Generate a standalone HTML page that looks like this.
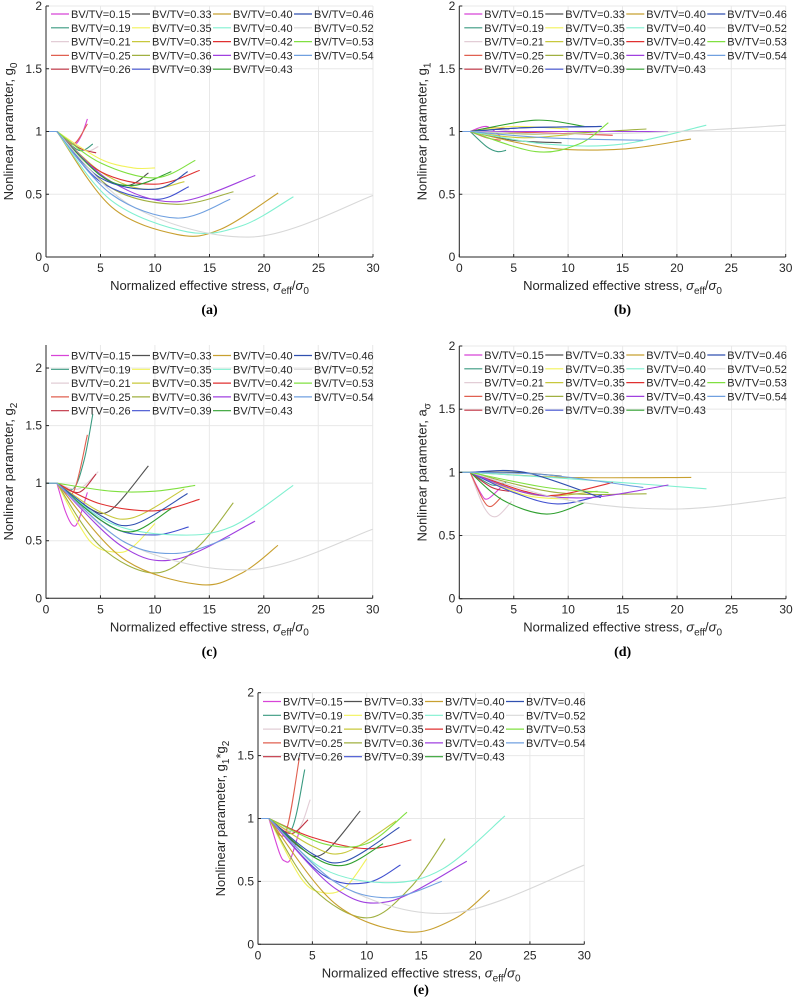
<!DOCTYPE html>
<html><head><meta charset="utf-8">
<style>
html,body{margin:0;padding:0;background:#fff;}
svg{display:block;font-family:"Liberation Sans",sans-serif;}
.tick{font-size:12px;fill:#262626;}
.leg{font-size:11px;fill:#262626;}
.axl{font-size:13px;fill:#262626;}
.pl{font-family:"Liberation Serif",serif;font-weight:bold;font-size:14px;fill:#000;}
</style></head>
<body>
<svg id="fig" width="793" height="1006" viewBox="0 0 793 1006" xmlns="http://www.w3.org/2000/svg"></svg>
<script>
const seriesLabels = ["BV/TV=0.15","BV/TV=0.19","BV/TV=0.21","BV/TV=0.25","BV/TV=0.26","BV/TV=0.33","BV/TV=0.35","BV/TV=0.35","BV/TV=0.36","BV/TV=0.39","BV/TV=0.40","BV/TV=0.40","BV/TV=0.42","BV/TV=0.43","BV/TV=0.43","BV/TV=0.46","BV/TV=0.52","BV/TV=0.53","BV/TV=0.54"];
const seriesColors = ["#d844d8","#3a9a80","#e2cdd6","#e06050","#c03040","#505050","#f2f25a","#c8c83c","#a0b040","#4050d0","#c8a030","#80f0d0","#e03030","#a040e0","#30a030","#3050b0","#d8d8d8","#80e040","#70a0e0"];
const xTicks = [0,5,10,15,20,25,30];
const yTicks = [0,0.5,1,1.5,2];
const yTickLabels = ["0","0.5","1","1.5","2"];

const g0Data = [
 [[0,1],[1,1],[2.5,0.9],[3.2,0.96],[3.8,1.1]],
 [[0,1],[1,1],[3,0.85],[4.3,0.9]],
 [[0,1],[1,1],[3.5,0.85],[4.8,0.88]],
 [[0,1],[1,1],[2.5,0.9],[3.8,1.06]],
 [[0,1],[1,1],[3,0.87],[4.6,0.83]],
 [[0,1],[1,1],[5,0.65],[7.5,0.57],[9.4,0.67]],
 [[0,1],[1,1],[5,0.78],[8,0.71],[10,0.71]],
 [[0,1],[1,1],[5,0.68],[9,0.54],[12.7,0.6]],
 [[0,1],[1,1],[6,0.55],[12,0.42],[17.2,0.52]],
 [[0,1],[1,1],[5,0.6],[10,0.46],[13.1,0.56]],
 [[0,1],[1,1],[6,0.4],[12,0.18],[16,0.22],[21.3,0.51]],
 [[0,1],[1,1],[6,0.45],[13,0.2],[18,0.25],[22.7,0.48]],
 [[0,1],[1,1],[5,0.68],[10,0.58],[14.1,0.69]],
 [[0,1],[1,1],[6,0.6],[12,0.44],[19.2,0.65]],
 [[0,1],[1,1],[5,0.65],[8,0.57],[11.5,0.68]],
 [[0,1],[1,1],[5,0.63],[10,0.54],[13,0.68]],
 [[0,1],[1,1],[8,0.4],[19,0.16],[30,0.49]],
 [[0,1],[1,1],[5,0.75],[10,0.63],[13.7,0.77]],
 [[0,1],[1,1],[6,0.5],[12,0.31],[16.9,0.46]]
];
const g1Data = [
 [[0,1],[1,1],[2.5,1.04],[3.8,0.96]],
 [[0,1],[1,1],[2.5,0.88],[3.5,0.84],[4.3,0.85]],
 [[0,1],[1,1],[3,1.02],[4.8,1.0]],
 [[0,1],[1,1],[2.5,0.95],[3.8,0.93]],
 [[0,1],[1,1],[3,1.03],[4.6,1.02]],
 [[0,1],[1,1],[5,0.93],[9.4,0.91]],
 [[0,1],[1,1],[5,1.04],[10,1.02]],
 [[0,1],[1,1],[6,0.95],[12.7,1.0]],
 [[0,1],[1,1],[8,0.98],[17.2,1.02]],
 [[0,1],[1,1],[6,1.03],[13.1,1.04]],
 [[0,1],[1,1],[8,0.87],[15,0.86],[21.3,0.94]],
 [[0,1],[1,1],[8,0.9],[15,0.9],[22.7,1.05]],
 [[0,1],[1,1],[7,0.99],[14.1,0.97]],
 [[0,1],[1,1],[8,1.0],[19.2,1.0]],
 [[0,1],[1,1],[7,1.09],[11.5,1.04]],
 [[0,1],[1,1],[6,1.03],[13,1.04]],
 [[0,1],[1,1],[10,0.98],[20,1.0],[30,1.05]],
 [[0,1],[1,1],[7,0.84],[11,0.9],[13.7,1.07]],
 [[0,1],[1,1],[8,0.95],[16.9,0.93]]
];
const g2Data = [
 [[0,1],[1,1],[1.8,0.75],[2.5,0.63],[3,0.68],[3.8,0.92]],
 [[0,1],[1,1],[2.5,0.95],[3.5,1.2],[4.3,1.6]],
 [[0,1],[1,1],[3,0.95],[4.8,1.1]],
 [[0,1],[1,1],[2.5,0.92],[3.8,1.42]],
 [[0,1],[1,1],[3,0.92],[4.6,1.08]],
 [[0,1],[1,1],[4,0.78],[6,0.77],[9.4,1.15]],
 [[0,1],[1,1],[4,0.5],[6.5,0.4],[8,0.45],[10,0.65]],
 [[0,1],[1,1],[5,0.75],[8,0.7],[12.7,0.95]],
 [[0,1],[1,1],[5,0.45],[10,0.22],[14,0.45],[17.2,0.83]],
 [[0,1],[1,1],[6,0.62],[10,0.55],[13.1,0.62]],
 [[0,1],[1,1],[7,0.35],[14,0.12],[18,0.22],[21.3,0.46]],
 [[0,1],[1,1],[6,0.65],[12,0.55],[17,0.62],[22.7,0.98]],
 [[0,1],[1,1],[5,0.82],[10,0.76],[14.1,0.86]],
 [[0,1],[1,1],[7,0.45],[12,0.34],[19.2,0.67]],
 [[0,1],[1,1],[5,0.68],[8,0.58],[11.5,0.78]],
 [[0,1],[1,1],[5,0.72],[8,0.64],[13,0.91]],
 [[0,1],[1,1],[8,0.45],[19,0.25],[30,0.6]],
 [[0,1],[1,1],[6,0.93],[10,0.93],[13.7,0.98]],
 [[0,1],[1,1],[7,0.5],[12,0.39],[16.9,0.53]]
];
const aSigmaData = [
 [[0,1],[1,1],[2,0.83],[2.6,0.79],[3.8,0.88]],
 [[0,1],[1,1],[3,0.9],[4.3,0.92]],
 [[0,1],[1,1],[2.3,0.72],[3.4,0.65],[4.8,0.77]],
 [[0,1],[1,1],[2.2,0.78],[2.9,0.73],[3.8,0.8]],
 [[0,1],[1,1],[3,0.88],[4.6,0.85]],
 [[0,1],[1,1],[5,1.0],[9.4,0.97]],
 [[0,1],[1,1],[6,0.82],[10,0.79]],
 [[0,1],[1,1],[7,0.82],[12.7,0.85]],
 [[0,1],[1,1],[9,0.84],[17.2,0.83]],
 [[0,1],[1,1],[5,0.84],[9,0.75],[13.1,0.82]],
 [[0,1],[1,1],[10,0.96],[21.3,0.96]],
 [[0,1],[1,1],[10,0.95],[22.7,0.87]],
 [[0,1],[1,1],[6,0.85],[9,0.82],[14.1,0.92]],
 [[0,1],[1,1],[6,0.84],[12,0.8],[19.2,0.9]],
 [[0,1],[1,1],[4,0.78],[8,0.67],[11.5,0.76]],
 [[0,1],[1,1],[6,1.0],[13,0.8]],
 [[0,1],[1,1],[10,0.78],[20,0.71],[30,0.8]],
 [[0,1],[1,1],[8,0.88],[13.7,0.84]],
 [[0,1],[1,1],[8,0.98],[16.9,0.88]]
];
const g1g2Data = [
 [[0,1],[1,1],[2,0.72],[2.5,0.66],[3,0.68],[3.8,0.9]],
 [[0,1],[1,1],[3,0.9],[4.3,1.39]],
 [[0,1],[1,1],[3.5,0.9],[4.8,1.15]],
 [[0,1],[1,1],[2.5,0.88],[3.8,1.48]],
 [[0,1],[1,1],[3,0.88],[4.6,0.99]],
 [[0,1],[1,1],[4,0.76],[6,0.72],[9.4,1.06]],
 [[0,1],[1,1],[4,0.52],[6,0.41],[8,0.45],[10,0.68]],
 [[0,1],[1,1],[5,0.78],[8,0.73],[12.7,0.98]],
 [[0,1],[1,1],[5,0.45],[10,0.21],[14,0.45],[17.2,0.84]],
 [[0,1],[1,1],[6,0.55],[10,0.49],[13.1,0.63]],
 [[0,1],[1,1],[7,0.33],[13.5,0.1],[18,0.2],[21.3,0.43]],
 [[0,1],[1,1],[6,0.6],[12,0.49],[17,0.6],[22.7,1.02]],
 [[0,1],[1,1],[5,0.85],[10,0.76],[14.1,0.83]],
 [[0,1],[1,1],[7,0.45],[12,0.34],[19.2,0.66]],
 [[0,1],[1,1],[5,0.7],[8,0.63],[11.5,0.8]],
 [[0,1],[1,1],[5,0.72],[8,0.66],[13,0.93]],
 [[0,1],[1,1],[8,0.45],[18,0.25],[30,0.63]],
 [[0,1],[1,1],[6,0.8],[10,0.8],[13.7,1.05]],
 [[0,1],[1,1],[7,0.5],[12,0.37],[16.9,0.5]]
];

const NS="http://www.w3.org/2000/svg";
const fig=document.getElementById('fig');
function mk(tag,attrs,parent){const e=document.createElementNS(NS,tag);for(const k in attrs)e.setAttribute(k,attrs[k]);(parent||fig).appendChild(e);return e;}

function splinePath(pts,sx,sy){
  const P=pts.map(p=>[sx(p[0]),sy(p[1])]);
  let d="M"+P[0][0].toFixed(2)+","+P[0][1].toFixed(2)+" L"+P[1][0].toFixed(2)+","+P[1][1].toFixed(2);
  const Q=P.slice(1);
  for(let i=0;i<Q.length-1;i++){
    const p0=Q[i-1]||Q[i],p1=Q[i],p2=Q[i+1],p3=Q[i+2]||Q[i+1];
    const c1=[p1[0]+(p2[0]-p0[0])/6,p1[1]+(p2[1]-p0[1])/6];
    const c2=[p2[0]-(p3[0]-p1[0])/6,p2[1]-(p3[1]-p1[1])/6];
    d+=" C"+c1[0].toFixed(2)+","+c1[1].toFixed(2)+" "+c2[0].toFixed(2)+","+c2[1].toFixed(2)+" "+p2[0].toFixed(2)+","+p2[1].toFixed(2);
  }
  return d;
}

function panel(cfg){
  const g=mk('g',{});
  
  
  const L=cfg.left,R=cfg.right,T=cfg.top,B=cfg.bottom;
  const sx=v=>L+(v-0)/30*(R-L);
  const sy=v=>B-(v-0)/cfg.ymax*(B-T);
  // grid
  const grid=mk('g',{stroke:'#e8e8e8','stroke-width':'1'},g);
  
  
  xTicks.forEach(t=>{mk('line',{x1:sx(t),x2:sx(t),y1:T,y2:B},grid);});
  yTicks.forEach(t=>{mk('line',{x1:L,x2:R,y1:sy(t),y2:sy(t)},grid);});
  // series
  const sg=mk('g',{fill:'none','stroke-width':'1.1'},g);
  cfg.data.forEach((pts,i)=>{
    const p=mk('path',{d:splinePath(pts,sx,sy),stroke:seriesColors[i]},sg);
    
    
  });
  // axes
  const ax=mk('g',{stroke:'#262626','stroke-width':'1'},g);
  
  
  mk('line',{x1:L,x2:L,y1:T,y2:B},ax);
  mk('line',{x1:L,x2:R,y1:B,y2:B},ax);
  xTicks.forEach(t=>{mk('line',{x1:sx(t),x2:sx(t),y1:B,y2:B-3},ax);});
  yTicks.forEach(t=>{mk('line',{x1:L,x2:L+3,y1:sy(t),y2:sy(t)},ax);});
  xTicks.forEach(t=>{const tx=mk('text',{x:sx(t),y:B+15,'text-anchor':'middle',class:'tick'},g);tx.textContent=String(t);
    });
  yTicks.forEach((t,i)=>{const tx=mk('text',{x:L-4,y:sy(t)+4,'text-anchor':'end',class:'tick'},g);tx.textContent=yTickLabels[i];
    });
  // xlabel
  const xl=mk('text',{x:(L+R)/2,y:B+33,'text-anchor':'middle',class:'axl'},g);
  
  xl.innerHTML='Normalized effective stress, <tspan font-style="italic">σ</tspan><tspan font-size="10" dy="4">eff</tspan><tspan dy="-4">/</tspan><tspan font-style="italic">σ</tspan><tspan font-size="10" dy="4">0</tspan>';
  // ylabel
  const cy=(T+B)/2;
  const yl=mk('text',{x:0,y:0,'text-anchor':'middle',class:'axl',transform:'translate('+(L-33)+','+cy+') rotate(-90)'},g);
  
  yl.innerHTML=cfg.ylabel;
  // legend
  const lg=mk('g',{},g);
  
  seriesLabels.forEach((lab,i)=>{
    const col=Math.floor(i/5),row=i%5;
    const x0=L+5+col*81,yy=cfg.legTop+row*13.8;
    const e=mk('g',{},lg);
    
    
    mk('line',{x1:x0,x2:x0+18,y1:yy,y2:yy,stroke:seriesColors[i],'stroke-width':'1.2'},e);
    const t=mk('text',{x:x0+20,y:yy+4,class:'leg'},e);t.textContent=lab;
  });
  // panel label
  const pl=mk('text',{x:(L+R)/2,y:cfg.labelY,'text-anchor':'middle',class:'pl'},g);
  pl.textContent=cfg.label;
  
}

panel({name:'panel-a-g0',left:46,right:373,top:6,bottom:257,ymax:2,data:g0Data,legTop:14,labelY:314,label:'(a)',
  ylabel:'Nonlinear parameter, g<tspan font-size="10" dy="4">0</tspan>'});
panel({name:'panel-b-g1',left:459.3,right:785.7,top:6,bottom:257,ymax:2,data:g1Data,legTop:14,labelY:314,label:'(b)',
  ylabel:'Nonlinear parameter, g<tspan font-size="10" dy="4">1</tspan>'});
panel({name:'panel-c-g2',left:46,right:372.7,top:345,bottom:598.3,ymax:2.2,data:g2Data,legTop:355.5,labelY:656,label:'(c)',
  ylabel:'Nonlinear parameter, g<tspan font-size="10" dy="4">2</tspan>'});
panel({name:'panel-d-a-sigma',left:459.3,right:786,top:346,bottom:598.7,ymax:2,data:aSigmaData,legTop:355,labelY:656,label:'(d)',
  ylabel:'Nonlinear parameter, a<tspan font-size="10" dy="4">σ</tspan>'});
panel({name:'panel-e-g1g2',left:258,right:584.3,top:692.7,bottom:944.3,ymax:2,data:g1g2Data,legTop:701.5,labelY:994,label:'(e)',
  ylabel:'Nonlinear parameter, g<tspan font-size="10" dy="4">1</tspan><tspan dy="-4">*g</tspan><tspan font-size="10" dy="4">2</tspan>'});
</script>
</body></html>
